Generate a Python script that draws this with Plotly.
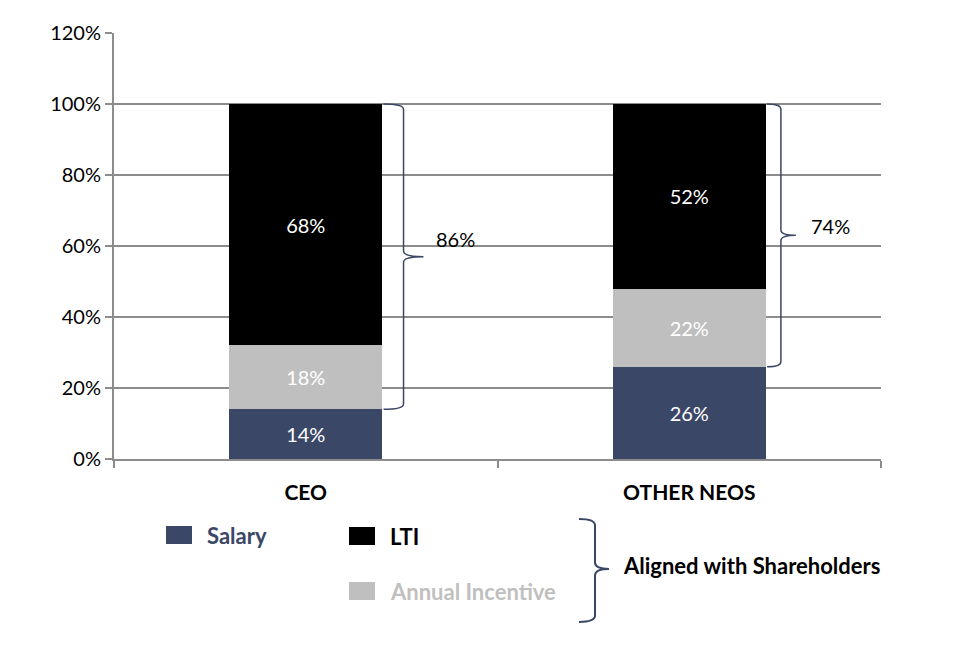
import plotly.graph_objects as go

# pay mix data
categories = ["CEO", "OTHER NEOS"]
salary = [14, 26]
annual_incentive = [18, 22]
lti = [68, 52]
y_ticks = [0, 20, 40, 60, 80, 100, 120]

NAVY = "#3a4766"
GREY = "#bfbfbf"
AXIS = "#8c8c8c"
FONT = "Lato, Carlito, Calibri, sans-serif"

x = list(range(len(categories)))

fig = go.Figure()
for name, vals, color in [("Salary", salary, NAVY),
                          ("Annual Incentive", annual_incentive, GREY),
                          ("LTI", lti, "#000000")]:
    fig.add_trace(go.Bar(
        x=x, y=vals, name=name, marker_color=color, marker_line_width=0,
        width=0.4, text=[f"{v}%" for v in vals], textposition="inside",
        insidetextanchor="middle",
        textfont=dict(color="white", size=20, family=FONT),
    ))

# braces around incentive + LTI (spine, tip, label offsets from bar centre; label lift)
brace_style = [(0.255, 0.307, 0.335, 5), (0.239, 0.278, 0.312, 2.5)]
for i in x:
    lo = salary[i]
    hi = salary[i] + annual_incentive[i] + lti[i]
    mid = (lo + hi) / 2
    sx, tx, lx, lift = brace_style[i]
    x0, x1, x2 = i + 0.203, i + sx, i + tx
    d = 1.5
    path = (f"M {x0},{hi} Q {x1},{hi} {x1},{hi - d} L {x1},{mid + d} "
            f"Q {x1},{mid} {x2},{mid} Q {x1},{mid} {x1},{mid - d} "
            f"L {x1},{lo + d} Q {x1},{lo} {x0},{lo}")
    fig.add_shape(type="path", path=path, xref="x", yref="y",
                  line=dict(color=NAVY, width=1.5))
    fig.add_annotation(x=i + lx, y=mid + lift, xref="x", yref="y",
                       text=f"{annual_incentive[i] + lti[i]}%", showarrow=False,
                       xanchor="left", yanchor="middle",
                       font=dict(size=20, color="black", family=FONT))


# helpers: pixel position of the reference image -> paper coords
def px_x(v):
    return (v - 113) / 767


def px_y(v):
    return (459 - v) / 426


# custom legend
legend_items = [("Salary", NAVY, NAVY, 165, 535), ("LTI", "#000000", "black", 348, 536),
                ("Annual Incentive", GREY, GREY, 348, 591)]
for name, color, tcolor, lx, ly in legend_items:
    fig.add_shape(type="rect", xref="paper", yref="paper",
                  x0=px_x(lx), x1=px_x(lx + 26),
                  y0=px_y(ly + 9), y1=px_y(ly - 9),
                  fillcolor=color, line=dict(width=0), layer="above")
    fig.add_annotation(xref="paper", yref="paper",
                       x=px_x(lx + 39), y=px_y(ly),
                       text=name, showarrow=False,
                       xanchor="left", yanchor="middle",
                       font=dict(size=22, color=tcolor, family=FONT, weight="bold"))

# large brace for "Aligned with Shareholders"
bx0, bx1, bx2 = px_x(578), px_x(594), px_x(608)
bt, bm, bb = px_y(519), px_y(569), px_y(622)
dd = 0.015
big = (f"M {bx0},{bt} Q {bx1},{bt} {bx1},{bt - dd} L {bx1},{bm + dd} "
       f"Q {bx1},{bm} {bx2},{bm} Q {bx1},{bm} {bx1},{bm - dd} "
       f"L {bx1},{bb + dd} Q {bx1},{bb} {bx0},{bb}")
fig.add_shape(type="path", path=big, xref="paper", yref="paper",
              line=dict(color=NAVY, width=2))
fig.add_annotation(xref="paper", yref="paper", x=px_x(620), y=px_y(565),
                   text="Aligned with Shareholders", showarrow=False,
                   xanchor="left", yanchor="middle",
                   font=dict(size=22, color="black", family=FONT, weight="bold"))

fig.update_layout(
    barmode="stack",
    width=972, height=647,
    margin=dict(l=106, r=99, t=25, b=196),
    plot_bgcolor="white", paper_bgcolor="white",
    showlegend=False,
    font=dict(family=FONT, size=20, color="black"),
    xaxis=dict(
        range=[-0.5, 1.5], tickvals=x,
        ticktext=categories,
        tickfont=dict(size=21, color="black", weight="bold"),
        showgrid=False, zeroline=False,
        showline=True, linecolor=AXIS, linewidth=2,
        ticks="", ticklabelstandoff=14,
        minor=dict(tickvals=[-0.5, 0.5, 1.5], ticks="outside",
                   ticklen=7, tickcolor=AXIS, tickwidth=2, showgrid=False),
    ),
    yaxis=dict(
        range=[0, 120], tickvals=y_ticks,
        ticktext=[f"{v}%" for v in y_ticks],
        showgrid=True, gridcolor=AXIS, gridwidth=2, zeroline=False,
        showline=True, linecolor=AXIS, linewidth=2,
        ticks="outside", ticklen=7, tickcolor=AXIS, tickwidth=2,
        tickfont=dict(size=20, color="black"),
    ),
)

fig.write_html("out.html")
